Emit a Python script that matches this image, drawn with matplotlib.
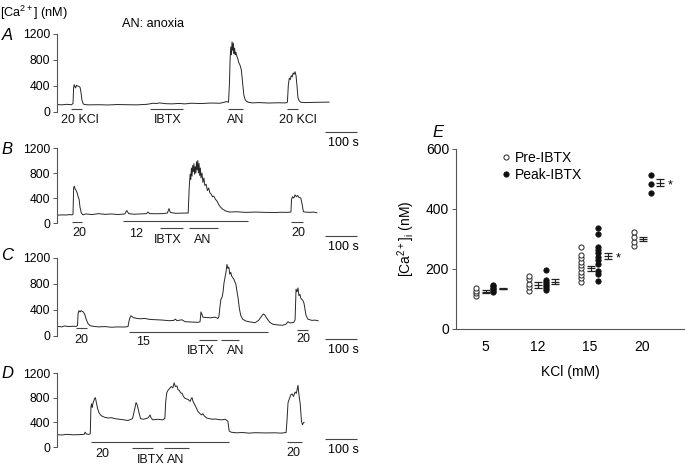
import matplotlib
matplotlib.use("Agg")
import matplotlib.pyplot as plt

plt.rcParams['font.family'] = ['Liberation Sans', 'DejaVu Sans']
plt.rcParams['mathtext.fontset'] = 'custom'
plt.rcParams['mathtext.rm'] = 'Liberation Sans'
plt.rcParams['mathtext.it'] = 'Liberation Sans:italic'
plt.rcParams['mathtext.default'] = 'regular'

# ---------------- data: traces (time s, [Ca2+] nM) ----------------
A_t = [0, 15, 30, 45, 50, 52, 54, 56, 58, 61, 64, 68, 72, 75, 78, 82, 86, 100, 130, 160, 190, 220, 250,
       280, 290, 300, 310, 320, 340, 360, 380, 400, 420, 450, 480, 510, 530, 536, 539, 541, 543, 545,
       547, 549, 551, 553, 555, 557, 559, 562, 565, 568, 572, 576, 580, 584, 588, 592, 598, 610, 630,
       660, 690, 715, 720, 723, 726, 729, 732, 735, 738, 741, 744, 747, 750, 753, 757, 762, 775, 800,
       825, 850]
A_nM = [115, 110, 118, 112, 130, 380, 420, 390, 370, 410, 400, 395, 380, 300, 180, 125, 115, 110, 112,
        108, 115, 112, 110, 118, 125, 135, 130, 140, 128, 125, 132, 125, 135, 130, 138, 135, 160, 150,
        450, 820, 1000, 880, 1080, 950, 1060, 900, 980, 880, 920, 860, 820, 760, 720, 650, 450, 260,
        190, 165, 150, 140, 145, 138, 142, 140, 150, 420, 520, 500, 560, 540, 600, 580, 620, 560, 400,
        220, 170, 150, 145, 148, 150, 152]

B_t = [0, 15, 30, 40, 47, 50, 52, 54, 57, 60, 63, 66, 69, 72, 76, 81, 90, 110, 130, 150, 170, 190, 212,
       218, 224, 240, 260, 280, 284, 290, 310, 330, 345, 350, 354, 370, 390, 410, 413, 416, 418, 420,
       422, 424, 426, 428, 430, 432, 434, 436, 438, 440, 442, 444, 446, 448, 450, 453, 456, 459, 462,
       466, 470, 474, 478, 482, 486, 490, 495, 500, 505, 510, 518, 528, 540, 560, 590, 620, 650, 680,
       700, 720, 731, 733, 736, 740, 744, 748, 752, 756, 762, 766, 770, 776, 790, 800, 812]
B_nM = [125, 130, 128, 135, 130, 140, 560, 590, 540, 520, 480, 420, 380, 250, 160, 130, 145, 135, 150,
        138, 145, 135, 145, 200, 150, 140, 145, 150, 175, 150, 148, 150, 160, 230, 170, 155, 158, 160,
        550, 780, 700, 880, 750, 920, 820, 950, 780, 900, 800, 980, 850, 1000, 800, 950, 760, 880, 720,
        800, 650, 720, 600, 620, 520, 560, 480, 460, 420, 430, 380, 350, 300, 260, 220, 190, 175, 180,
        170, 175, 170, 168, 172, 170, 175, 380, 420, 400, 450, 420, 440, 410, 400, 300, 180, 175, 170,
        175, 165]

C_t = [0, 15, 25, 35, 50, 60, 64, 66, 69, 72, 75, 78, 82, 87, 91, 97, 103, 112, 130, 150, 170, 190, 210,
       222, 225, 228, 231, 234, 240, 250, 260, 275, 290, 310, 330, 350, 365, 370, 375, 390, 395, 400,
       420, 440, 447, 450, 453, 456, 465, 480, 494, 503, 506, 509, 512, 516, 519, 522, 525, 528, 531,
       534, 537, 540, 543, 546, 549, 553, 556, 559, 562, 566, 570, 574, 580, 590, 605, 619, 630, 640,
       645, 650, 656, 665, 675, 690, 705, 715, 722, 728, 740, 744, 747, 750, 753, 756, 759, 762, 766,
       769, 772, 778, 784, 790, 797, 805, 816]
C_nM = [150, 140, 155, 145, 150, 148, 160, 350, 390, 370, 390, 380, 370, 330, 260, 190, 160, 150, 140,
        145, 135, 140, 138, 145, 230, 280, 310, 300, 280, 270, 265, 270, 255, 250, 245, 235, 240, 260,
        235, 250, 235, 220, 215, 210, 220, 370, 330, 290, 285, 280, 290, 270, 300, 440, 560, 600, 680,
        820, 900, 980, 1100, 1040, 1060, 950, 980, 920, 900, 870, 830, 800, 700, 580, 420, 320, 260,
        230, 215, 205, 240, 310, 340, 320, 270, 210, 180, 170, 165, 180, 220, 200, 210, 250, 720, 680,
        740, 620, 640, 580, 560, 540, 500, 320, 260, 250, 240, 245, 235]

D_t = [0, 15, 30, 50, 70, 85, 88, 92, 100, 104, 106, 108, 110, 113, 117, 120, 123, 127, 131, 136, 141,
       150, 160, 170, 181, 195, 210, 222, 236, 243, 247, 251, 256, 261, 270, 284, 291, 294, 300, 315,
       330, 337, 340, 343, 347, 352, 357, 362, 366, 370, 375, 378, 382, 386, 391, 395, 400, 405, 410,
       416, 419, 422, 425, 430, 434, 440, 447, 452, 456, 461, 468, 476, 485, 494, 505, 515, 525, 534,
       538, 544, 560, 580, 600, 620, 650, 680, 700, 716, 719, 722, 726, 731, 735, 739, 744, 748, 753,
       756, 760, 764, 767, 770, 772]
D_nM = [200, 195, 205, 198, 200, 205, 240, 210, 205, 215, 650, 700, 640, 720, 780, 800, 720, 620, 560,
        520, 500, 480, 470, 475, 460, 450, 440, 430, 460, 620, 720, 680, 560, 460, 450, 470, 520, 470,
        440, 450, 440, 460, 750, 880, 920, 950, 980, 960, 1040, 980, 990, 930, 920, 880, 870, 820, 790,
        780, 770, 740, 780, 800, 740, 690, 650, 580, 540, 520, 540, 500, 470, 460, 450, 455, 445, 440,
        450, 420, 260, 240, 230, 235, 225, 232, 228, 230, 225, 235, 450, 720, 780, 850, 860, 820, 890,
        870, 1000, 850, 700, 420, 360, 390, 400]

# stimulus periods (s) and their labels
A_stim_label = ["20 KCl", "IBTX", "AN", "20 KCl"]
A_stim_start = [44, 291, 534, 719]
A_stim_end = [78, 394, 581, 753]
B_stim_label = ["20", "12", "IBTX", "AN", "20"]
B_stim_start = [47, 206, 322, 412, 731]
B_stim_end = [78, 597, 394, 503, 769]
C_stim_label = ["20", "15", "IBTX", "AN", "20"]
C_stim_start = [59, 225, 444, 512, 750]
C_stim_end = [94, 659, 500, 569, 784]
D_stim_label = ["20", "IBTX", "AN", "20"]
D_stim_start = [106, 234, 334, 719]
D_stim_end = [537, 300, 412, 766]

# ---------------- data: panel E ----------------
kcl_labels = ["5", "12", "15", "20"]
pre_5 = [110, 119, 128, 137]
pre_12 = [128, 139, 150, 166, 177]
pre_15 = [156, 169, 180, 191, 202, 213, 224, 236, 247, 274]
pre_20 = [277, 291, 308, 324]
peak_5 = [122, 127, 132, 137, 142, 148]
peak_12 = [131, 137, 143, 150, 158, 165, 197]
peak_15 = [160, 183, 194, 217, 230, 241, 252, 263, 274, 317, 336]
peak_20 = [452, 482, 513]
pre_mean = [124, 147, 202, 299]
pre_sem = [5, 9, 7, 7]
peak_mean = [135, 158, 243, 488]
peak_sem = [3, 9, 10, 12]
significant = [False, False, True, True]

# ---------------- figure ----------------
W, H = 685, 467
fig = plt.figure(figsize=(W / 100, H / 100), dpi=100)


def rect(l, t, r, b):
    return [l / W, 1 - b / H, (r - l) / W, (b - t) / H]


TRACE_COL = '#262626'
AX_COL = '#555555'
PXS = 3.125  # seconds per pixel
X0 = 57

panels = [
    dict(letter='A', t=A_t, v=A_nM, lab=A_stim_label, s=A_stim_start, e=A_stim_end, y0=112, y1=34,
         bar_py=[109, 109, 109, 109], lab_py=[120, 120, 120, 120], lab_t=[72, 347, 559, 753],
         sb_py=132, sbt_py=143, let_py=35),
    dict(letter='B', t=B_t, v=B_nM, lab=B_stim_label, s=B_stim_start, e=B_stim_end, y0=223, y1=148,
         bar_py=[222, 221, 228, 228, 222], lab_py=[233, 234, 240, 240, 233],
         lab_t=[69, 248, 347, 455, 753], sb_py=236, sbt_py=247, let_py=150),
    dict(letter='C', t=C_t, v=C_nM, lab=C_stim_label, s=C_stim_start, e=C_stim_end, y0=336, y1=258,
         bar_py=[328, 332, 340, 340, 330], lab_py=[340, 342, 351, 351, 339],
         lab_t=[77, 269, 450, 559, 769], sb_py=339, sbt_py=350, let_py=256),
    dict(letter='D', t=D_t, v=D_nM, lab=D_stim_label, s=D_stim_start, e=D_stim_end, y0=447, y1=373,
         bar_py=[442, 448, 448, 442], lab_py=[454, 460, 460, 453],
         lab_t=[142, 294, 372, 739], sb_py=439, sbt_py=450, let_py=373),
]

XR = 1000
for p in panels:
    ax = fig.add_axes(rect(X0, p['y1'], X0 + XR / PXS, p['y0']))
    ax.set_xlim(0, XR)
    ax.set_ylim(0, 1200)
    ax.patch.set_visible(False)
    for s in ['top', 'right', 'bottom']:
        ax.spines[s].set_visible(False)
    ax.spines['left'].set_color(AX_COL)
    ax.spines['left'].set_linewidth(0.8)
    ax.set_xticks([])
    ax.set_yticks([0, 400, 800, 1200])
    ax.tick_params(axis='y', length=3, width=0.7, color=AX_COL, pad=2, labelsize=8.7)
    ax.plot(p['t'], p['v'], color=TRACE_COL, lw=0.7)

    scale = 1200 / (p['y0'] - p['y1'])

    def yv(py, p=p, scale=scale):
        return (p['y0'] - py) * scale

    for i in range(len(p['lab'])):
        ax.plot([p['s'][i], p['e'][i]], [yv(p['bar_py'][i])] * 2, color='#444444', lw=0.8,
                clip_on=False, solid_capstyle='butt')
        ax.text(p['lab_t'][i], yv(p['lab_py'][i]), p['lab'][i], ha='center', va='center',
                fontsize=9, color='#111111', clip_on=False)
    # time scale bar
    ax.plot([837.5, 937.5], [yv(p['sb_py'])] * 2, color='#444444', lw=0.8, clip_on=False,
            solid_capstyle='butt')
    ax.text(894, yv(p['sbt_py']), '100 s', ha='center', va='center', fontsize=9, clip_on=False)
    fig.text(7 / W, 1 - p['let_py'] / H, p['letter'], ha='center', va='center', fontsize=12,
             style='italic')

fig.text(0, 1 - 13 / H, '[Ca$^{2+}$] (nM)', ha='left', va='center', fontsize=9.2)
fig.text(153 / W, 1 - 24 / H, 'AN: anoxia', ha='center', va='center', fontsize=9.2)

# ---------------- panel E ----------------
axE = fig.add_axes(rect(456, 149, 685, 329))
SP = 52.5
axE.set_xlim((456 - 485) / SP, (685 - 485) / SP)
axE.set_ylim(0, 600)
axE.patch.set_visible(False)
for s in ['top', 'right']:
    axE.spines[s].set_visible(False)
for s in ['left', 'bottom']:
    axE.spines[s].set_color(AX_COL)
    axE.spines[s].set_linewidth(0.8)
axE.set_yticks([0, 200, 400, 600])
axE.set_xticks(range(4))
axE.set_xticklabels(kcl_labels)
axE.tick_params(axis='y', length=3, width=0.7, color=AX_COL, pad=2, labelsize=10)
axE.tick_params(axis='x', length=0, pad=8, labelsize=10)

pre_all = [pre_5, pre_12, pre_15, pre_20]
peak_all = [peak_5, peak_12, peak_15, peak_20]
for i in range(4):
    axE.plot([i - 0.17] * len(pre_all[i]), pre_all[i], 'o', ms=3.7, mfc='white', mec='#222222',
             mew=0.7, label='Pre-IBTX' if i == 0 else None, clip_on=False)
    axE.plot([i + 0.16] * len(peak_all[i]), peak_all[i], 'o', ms=3.9, mfc='#111111', mec='#111111',
             mew=0.5, label='Peak-IBTX' if i == 0 else None, clip_on=False)
    axE.errorbar(i + 0.01, pre_mean[i], yerr=pre_sem[i], fmt='_', ms=6, mew=0.9, color='#222222',
                 ecolor='#222222', elinewidth=0.8, capsize=2.8, capthick=0.8)
    axE.errorbar(i + 0.34, peak_mean[i], yerr=peak_sem[i], fmt='_', ms=6, mew=0.9, color='#222222',
                 ecolor='#222222', elinewidth=0.8, capsize=2.8, capthick=0.8)
    if significant[i]:
        axE.text(i + 0.53, peak_mean[i] - 8, '*', ha='center', va='center', fontsize=9)

axE.legend(loc='upper left', bbox_to_anchor=(0.165, 1.035), frameon=False, fontsize=10,
           handlelength=0.6, handletextpad=0.35, labelspacing=0.22, borderaxespad=0.2)
axE.set_xlabel('KCl (mM)', fontsize=10, labelpad=8)
axE.set_ylabel('[Ca$^{2+}$]$_{i}$ (nM)', fontsize=10, labelpad=6)
fig.text(438 / W, 1 - 133 / H, 'E', ha='center', va='center', fontsize=12, style='italic')

fig.savefig('out.png', dpi=100)
